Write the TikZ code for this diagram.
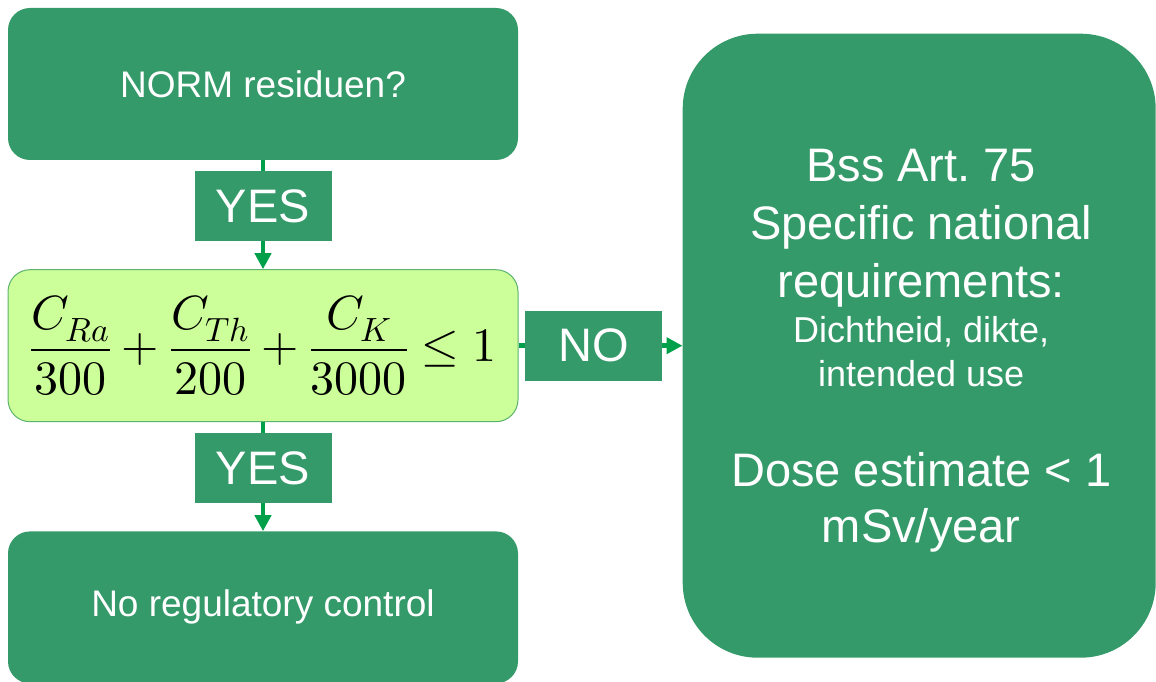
\documentclass[tikz,border=0pt]{standalone}
\usepackage{fontspec}
\usepackage{unicode-math}
\setmainfont{Liberation Sans}
\setmathfont{Latin Modern Math}
\usepackage{tikz}
\usetikzlibrary{arrows.meta, positioning}
\definecolor{BoxGreen}{HTML}{359A69}
\definecolor{CondLime}{HTML}{CCFF99}
\definecolor{CondRim}{HTML}{5DB36E}
\definecolor{FlowGreen}{HTML}{00A04B}
\tikzset{
  main box/.style={rectangle, rounded corners=22pt, fill=BoxGreen, text=white,
                   minimum width=510pt, minimum height=152pt, inner sep=0pt,
                   font=\fontsize{37}{44}\selectfont},
  cond box/.style={main box, fill=CondLime, draw=CondRim, line width=1pt,
                   text=black, font=\fontsize{48}{58}\selectfont},
  side box/.style={main box, rounded corners=75pt, minimum width=473pt,
                   minimum height=624pt},
  answer tag/.style={rectangle, fill=BoxGreen, text=white, minimum width=137pt,
                     minimum height=70pt, inner sep=0pt,
                     font=\fontsize{47}{56}\selectfont},
  flow edge/.style={draw=FlowGreen, line width=4.5pt,
                    -{Triangle[length=16pt, width=16pt]}},
}
\begin{document}
\begin{tikzpicture}[x=1pt, y=1pt, node distance=109pt and 164pt]
  \useasboundingbox (0,0) rectangle (1156,681);
  \node[main box] (norm) at (263,597) {NORM residuen?};
  \node[cond box, below=of norm] (limit)
    {$\displaystyle \frac{C_{Ra}}{300}+\frac{C_{Th}}{200}+\frac{C_K}{3000}\le 1$};
  \node[main box, below=of limit] (free) {No regulatory control};
  \node[side box, right=of limit] (national) {};
  \node[text=white, align=center, inner sep=0pt,
        font=\fontsize{47}{58}\selectfont] (natnote)
    at ([xshift=2pt, yshift=-5.5pt]national.center)
    {Bss Art.\ 75\\ Specific national\\ requirements:\\[-13pt]
     {\fontsize{36}{44}\selectfont Dichtheid, dikte,}\\[-14pt]
     {\fontsize{36}{44}\selectfont intended use}\\[42pt]
     Dose estimate < 1\\[-2pt] mSv/year};
  \draw[flow edge] (norm) -- node[answer tag, pos=0.42] (yesup) {YES} (limit);
  \draw[flow edge] (limit) -- node[answer tag, pos=0.42] (yesdown) {YES} (free);
  \draw[flow edge] (limit) -- node[answer tag, pos=0.46] (no) {NO} (national);
\end{tikzpicture}
\end{document}
